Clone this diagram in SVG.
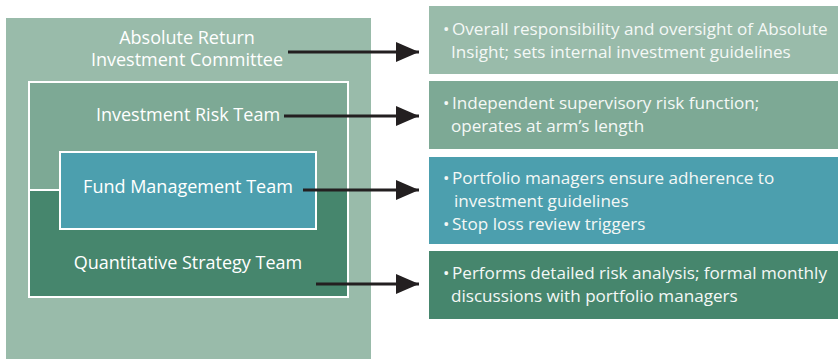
<svg xmlns="http://www.w3.org/2000/svg" width="838" height="359" viewBox="0 0 838 359">
<defs>
<style>
.t{font-family:"Open Sans","Noto Sans","DejaVu Sans",sans-serif;font-size:17.1px;fill:#f4f8f6}
.l{font-size:18px;fill:#ffffff}
.c{text-anchor:middle}
.wb{stroke:#ffffff;stroke-width:2}
.ar{stroke:#231f20;stroke-width:2.8;fill:none}
</style>
<marker id="ah" viewBox="0 0 23 20" refX="23" refY="10" markerWidth="23" markerHeight="20" markerUnits="userSpaceOnUse" orient="auto">
<path d="M0,0 L23,10 L0,20 Z" fill="#231f20"/>
</marker>
</defs>
<rect width="838" height="359" fill="#ffffff"/>
<g id="committee">
<rect x="6" y="18" width="365" height="341" fill="#99bbaa"/>
<text class="t l c" x="187" y="44">Absolute Return</text>
<text class="t l c" x="187" y="66">Investment Committee</text>
</g>
<g id="risk-team">
<rect class="wb" x="29" y="82" width="319" height="215" fill="#7da995"/>
</g>
<g id="quant-team">
<rect x="30" y="190" width="317" height="106" fill="#46866d"/>
<line class="wb" x1="29" y1="190" x2="60" y2="190"/>
<text class="t l c" x="188" y="269">Quantitative Strategy Team</text>
</g>
<g id="risk-label">
<text class="t l c" x="188" y="121">Investment Risk Team</text>
</g>
<g id="fund-team">
<rect class="wb" x="60" y="152" width="256" height="77" fill="#4c9fae"/>
<text class="t l c" x="188" y="193">Fund Management Team</text>
</g>
<g id="desc1">
<rect x="429" y="6" width="409" height="68" fill="#99bbaa"/>
<text class="t" x="443" y="35">•</text>
<text class="t" x="452" y="35">Overall responsibility and oversight of Absolute</text>
<text class="t" x="451" y="58">Insight; sets internal investment guidelines</text>
</g>
<g id="desc2">
<rect x="429" y="81" width="409" height="68" fill="#7da995"/>
<text class="t" x="443" y="109">•</text>
<text class="t" x="452" y="109">Independent supervisory risk function;</text>
<text class="t" x="451" y="132">operates at arm’s length</text>
</g>
<g id="desc3">
<rect x="429" y="157" width="409" height="87" fill="#4c9fae"/>
<text class="t" x="443" y="184">•</text>
<text class="t" x="452" y="184">Portfolio managers ensure adherence to</text>
<text class="t" x="454" y="207">investment guidelines</text>
<text class="t" x="443" y="230">•</text>
<text class="t" x="452" y="230">Stop loss review triggers</text>
</g>
<g id="desc4">
<rect x="429" y="251" width="409" height="68" fill="#46866d"/>
<text class="t" x="443" y="279">•</text>
<text class="t" x="452" y="279">Performs detailed risk analysis; formal monthly</text>
<text class="t" x="451" y="302">discussions with portfolio managers</text>
</g>
<g id="connectors">
<line class="ar" x1="288" y1="52" x2="419" y2="52" marker-end="url(#ah)"/>
<line class="ar" x1="284" y1="116" x2="419" y2="116" marker-end="url(#ah)"/>
<line class="ar" x1="303" y1="190" x2="419" y2="190" marker-end="url(#ah)"/>
<line class="ar" x1="316" y1="284" x2="419" y2="284" marker-end="url(#ah)"/>
</g>
</svg>
